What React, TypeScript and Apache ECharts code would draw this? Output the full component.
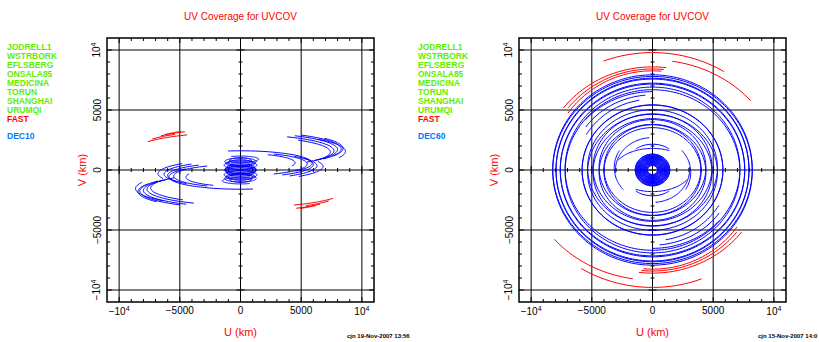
import React, { useEffect, useRef } from 'react';
import * as echarts from 'echarts';

// ---------- axis values ----------
const AXIS_MIN = -11000;
const AXIS_MAX = 11000;
const LABEL_VALUES = [-10000, -5000, 0, 5000, 10000];
const TICK_VALUES = [
  -10000, -9000, -8000, -7000, -6000, -5000, -4000, -3000, -2000, -1000, 0,
  1000, 2000, 3000, 4000, 5000, 6000, 7000, 8000, 9000, 10000,
];
const GRID_VALUES = [-10000, -5000, 0, 5000, 10000];

// ---------- legend text ----------
const STATIONS = ['JODRELL1', 'WSTRBORK', 'EFLSBERG', 'ONSALA85', 'MEDICINA', 'TORUN', 'SHANGHAI', 'URUMQI'];
const FAST_NAME = 'FAST';
const SOURCES = ['DEC10', 'DEC60'];
const TITLE = 'UV Coverage for UVCOV';
const STAMPS = ['cjn 19-Nov-2007 13:56', 'cjn 15-Nov-2007 14:0'];

// ---------- uv tracks ----------
// each track: [a (u semi-axis, km), b (v semi-axis, km), v0 (v centre, km), start deg, end deg]
// every track is drawn together with its conjugate (-u, -v)
const DEC10_BLUE = [
  [8300, 1450, 1750, -35, 53],
  [8000, 1390, 1700, -40, 56],
  [7700, 1340, 1600, -45, 60],
  [7400, 1290, 1500, -30, 50],
  [8650, 1500, 1550, -20, 42],
  [8450, 1470, 1800, -25, 35],
  [5900, 1030, 570, -40, 100],
  [5500, 960, 500, -60, 60],
  [6300, 1100, 350, -50, 45],
  [4500, 780, 600, -20, 60],
  [6800, 1180, 300, -45, 20],
  [6000, 1050, 450, -55, 30],
  [1300, 300, 700, 0, 360],
  [1200, 280, 550, 0, 360],
  [1350, 320, 400, 0, 360],
  [1100, 260, 250, 0, 360],
  [1250, 290, 100, 0, 360],
  [900, 220, 800, 0, 360],
  [1000, 240, 600, 0, 360],
  [800, 200, 450, 0, 360],
  [1300, 300, 0, 0, 360],
  [1500, 260, 900, -60, 120],
];
const DEC10_RED = [
  [8800, 1530, 1600, 120, 150],
  [8400, 1460, 1850, 130, 150],
  [8000, 1390, 2050, 125, 145],
  [7600, 1320, 2200, 130, 145],
];
const DEC60_BLUE = [
  [8220, 7865, 65, 0, 360],
  [7950, 7615, 35, 0, 360],
  [7600, 7200, 40, 0, 360],
  [7200, 6800, -110, 0, 360],
  [5800, 5420, -10, 0, 360],
  [5350, 4830, 190, 0, 360],
  [4900, 4480, -200, 0, 360],
  [4400, 4000, 200, 0, 360],
  [4000, 3650, 120, 0, 360],
  [7200, 6530, 0, 90, 140],
  [6700, 6260, 0, 95, 145],
  [6300, 5900, 0, 100, 150],
  [3050, 2700, 0, 95, 185],
  [3150, 2850, -200, -30, 40],
  [3300, 2000, 200, 245, 330],
  [2400, 2150, 0, 55, 125],
  [1420, 1320, 0, 0, 360],
  [1340, 1250, 0, 0, 360],
  [1260, 1170, 0, 0, 360],
  [1190, 1110, 0, 0, 360],
  [1120, 1040, 0, 0, 360],
  [1050, 980, 0, 0, 360],
  [980, 910, 0, 0, 360],
  [900, 840, 0, 0, 360],
  [830, 770, 0, 0, 360],
  [760, 710, 0, 0, 360],
  [690, 640, 0, 0, 360],
  [620, 580, 0, 0, 360],
  [550, 510, 0, 0, 360],
  [480, 450, 0, 0, 360],
  [410, 380, 0, 0, 360],
];
const DEC60_RED = [
  [10780, 9785, 0, 57, 112],
  [10400, 9175, 0, 39, 81],
  [9190, 8595, 0, 83, 143],
  [8500, 8264, 0, 85, 145],
  [8800, 8420, 0, 84, 142],
];

const BLUE = '#0000ff';
const RED = '#ff0000';
const GREEN = '#5fee00';
const SRC_BLUE = '#0077ff';
const FONT = 'Liberation Sans, Arial, sans-serif';

function trackRenderer(color: string) {
  return (_params: any, api: any) => {
    const a = api.value(0);
    const b = api.value(1);
    const v0 = api.value(2);
    const t0 = api.value(3);
    const t1 = api.value(4);
    const n = Math.max(2, Math.ceil(Math.abs(t1 - t0) / 2));
    const children: any[] = [];
    for (const sgn of [1, -1]) {
      const pts: number[][] = [];
      for (let i = 0; i <= n; i++) {
        const t = ((t0 + ((t1 - t0) * i) / n) * Math.PI) / 180;
        pts.push(api.coord([sgn * a * Math.cos(t), sgn * (v0 + b * Math.sin(t))]));
      }
      children.push({
        type: 'polyline',
        shape: { points: pts },
        style: { stroke: color, lineWidth: 1, fill: null },
      });
    }
    return { type: 'group', children };
  };
}

function frameRenderer(_params: any, api: any) {
  const t = api.value(0);
  const major = t % 5000 === 0;
  const len = major ? 5 : 3;
  const half = major ? 4 : 2;
  const bottom = api.coord([t, AXIS_MIN]);
  const top = api.coord([t, AXIS_MAX]);
  const left = api.coord([AXIS_MIN, t]);
  const right = api.coord([AXIS_MAX, t]);
  const zx = api.coord([t, 0]);
  const zy = api.coord([0, t]);
  const st = { stroke: '#000', lineWidth: 1 };
  const children: any[] = [
    { type: 'line', shape: { x1: bottom[0], y1: bottom[1], x2: bottom[0], y2: bottom[1] - len }, style: st },
    { type: 'line', shape: { x1: top[0], y1: top[1], x2: top[0], y2: top[1] + len }, style: st },
    { type: 'line', shape: { x1: left[0], y1: left[1], x2: left[0] + len, y2: left[1] }, style: st },
    { type: 'line', shape: { x1: right[0], y1: right[1], x2: right[0] - len, y2: right[1] }, style: st },
    { type: 'line', shape: { x1: zx[0], y1: zx[1] - half, x2: zx[0], y2: zx[1] + half }, style: st },
    { type: 'line', shape: { x1: zy[0] - half, y1: zy[1], x2: zy[0] + half, y2: zy[1] }, style: st },
  ];
  if (GRID_VALUES.indexOf(t) >= 0) {
    children.push({ type: 'line', shape: { x1: bottom[0], y1: bottom[1], x2: top[0], y2: top[1] }, style: st });
    children.push({ type: 'line', shape: { x1: left[0], y1: left[1], x2: right[0], y2: right[1] }, style: st });
  }
  return { type: 'group', children };
}

function fmt(v: number) {
  if (v === 10000) return '10{sup|4}';
  if (v === -10000) return '\u221210{sup|4}';
  if (v < 0) return '\u2212' + String(-v);
  return String(v);
}

const labelRich = { sup: { fontSize: 7, verticalAlign: 'top', padding: [0, 0, 5, 0], fontFamily: FONT, color: '#000' } };

function makeAxes(gi: number) {
  const x = {
    gridIndex: gi,
    type: 'value',
    min: AXIS_MIN,
    max: AXIS_MAX,
    axisLine: { show: false },
    axisTick: { show: false },
    splitLine: { show: false },
    axisLabel: {
      customValues: LABEL_VALUES,
      formatter: fmt,
      rich: labelRich,
      color: '#000',
      fontSize: 10,
      fontFamily: FONT,
      margin: 3,
    },
    name: 'U (km)',
    nameLocation: 'middle',
    nameGap: 24,
    nameTextStyle: { color: RED, fontSize: 11, fontFamily: FONT },
  };
  const y = {
    gridIndex: gi,
    type: 'value',
    min: AXIS_MIN,
    max: AXIS_MAX,
    axisLine: { show: false },
    axisTick: { show: false },
    splitLine: { show: false },
    axisLabel: {
      customValues: LABEL_VALUES,
      formatter: fmt,
      rich: labelRich,
      color: '#000',
      fontSize: 10,
      fontFamily: FONT,
      rotate: 90,
      margin: 5,
    },
    name: 'V (km)',
    nameLocation: 'middle',
    nameGap: 20,
    nameTextStyle: { color: RED, fontSize: 11, fontFamily: FONT },
  };
  return { x, y };
}

export default function App() {
  const ref = useRef<HTMLDivElement>(null);
  useEffect(() => {
    if (!ref.current) return;
    const chart = echarts.init(ref.current, null, { renderer: 'svg' });
    const a0 = makeAxes(0);
    const a1 = makeAxes(1);
    const panelX = [0, 411];
    const centers = [240.5, 652.5];
    const legendFont = `bold 8.5px ${FONT}`;
    const graphics: any[] = [];
    [0, 1].forEach((p) => {
      graphics.push({
        type: 'text',
        x: centers[p],
        y: 16,
        style: { text: TITLE, fill: RED, font: `10px ${FONT}`, align: 'center', verticalAlign: 'middle' },
      });
      STATIONS.forEach((s, i) => {
        graphics.push({
          type: 'text',
          x: panelX[p] + 7,
          y: 47 + i * 8.95,
          style: { text: s, fill: GREEN, font: legendFont, verticalAlign: 'middle' },
        });
      });
      graphics.push({
        type: 'text',
        x: panelX[p] + 7,
        y: 47 + 8 * 8.95,
        style: { text: FAST_NAME, fill: RED, font: legendFont, verticalAlign: 'middle' },
      });
      graphics.push({
        type: 'text',
        x: panelX[p] + 7,
        y: 136,
        style: { text: SOURCES[p], fill: SRC_BLUE, font: legendFont, verticalAlign: 'middle' },
      });
      graphics.push({
        type: 'text',
        x: panelX[p] + 347,
        y: 336,
        style: { text: STAMPS[p], fill: '#000', font: `bold 6px ${FONT}`, verticalAlign: 'middle' },
      });
    });

    const tickData = TICK_VALUES.map((t) => [t, 0]);
    chart.setOption({
      animation: false,
      backgroundColor: '#fff',
      grid: [
        { left: 107, top: 38, width: 267, height: 267, show: true, borderColor: '#000', borderWidth: 1.5, backgroundColor: 'transparent' },
        { left: 519, top: 38, width: 267, height: 267, show: true, borderColor: '#000', borderWidth: 1.5, backgroundColor: 'transparent' },
      ],
      xAxis: [a0.x, a1.x],
      yAxis: [a0.y, a1.y],
      graphic: graphics,
      series: [
        { type: 'custom', xAxisIndex: 0, yAxisIndex: 0, renderItem: frameRenderer, data: tickData, silent: true, clip: false },
        { type: 'custom', xAxisIndex: 0, yAxisIndex: 0, renderItem: trackRenderer(BLUE), data: DEC10_BLUE, silent: true },
        { type: 'custom', xAxisIndex: 0, yAxisIndex: 0, renderItem: trackRenderer(RED), data: DEC10_RED, silent: true },
        { type: 'custom', xAxisIndex: 1, yAxisIndex: 1, renderItem: frameRenderer, data: tickData, silent: true, clip: false },
        { type: 'custom', xAxisIndex: 1, yAxisIndex: 1, renderItem: trackRenderer(BLUE), data: DEC60_BLUE, silent: true },
        { type: 'custom', xAxisIndex: 1, yAxisIndex: 1, renderItem: trackRenderer(RED), data: DEC60_RED, silent: true },
      ],
    });
    return () => chart.dispose();
  }, []);
  return (
    <div
      ref={ref}
      style={{ position: 'fixed', left: 0, top: 0, width: 819, height: 342, background: '#fff' }}
    />
  );
}
